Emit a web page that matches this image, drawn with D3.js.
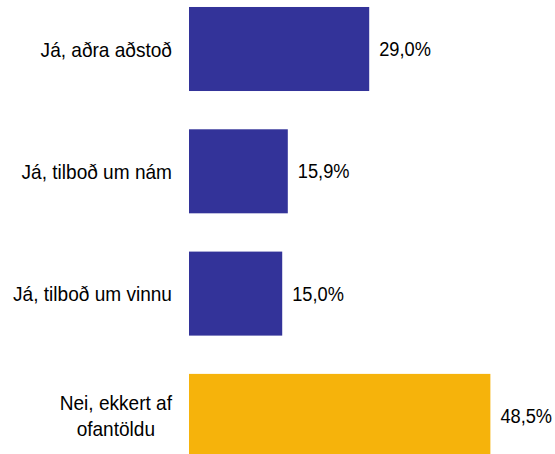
<!DOCTYPE html>
<html>
<head>
<meta charset="utf-8">
<script src="https://cdn.jsdelivr.net/npm/d3@7"></script>
<style>
  html, body { margin: 0; padding: 0; background: #ffffff; }
  svg { display: block; }
  text { font-family: "Liberation Sans", Arial, Helvetica, sans-serif; font-size: 20.5px; fill: #000; }
</style>
</head>
<body>
<svg id="chart" width="555" height="454"></svg>
<script>
const categories = ["Já, aðra aðstoð", "Já, tilboð um nám", "Já, tilboð um vinnu", "Nei, ekkert af ofantöldu"];
const labelLines = [["Já, aðra aðstoð"], ["Já, tilboð um nám"], ["Já, tilboð um vinnu"], ["Nei, ekkert af", "ofantöldu"]];
const values = [29.0, 15.9, 15.0, 48.5];
const valueLabels = ["29,0%", "15,9%", "15,0%", "48,5%"];
const barColors = ["#333399", "#333399", "#333399", "#F6B30B"];

const sxLab = 0.93, sxVal = 0.89; // condensed look of the original typeface
const svg = d3.select("#chart");
const x = d3.scaleLinear().domain([0, 50]).range([189, 499.7]);
const step = 122.3;
const y = d3.scaleBand()
  .domain(categories)
  .range([49 - step / 2, 49 - step / 2 + step * categories.length])
  .paddingInner(0.313)
  .paddingOuter(0.1565);

const data = categories.map((c, i) => ({ c, v: values[i], lab: valueLabels[i], lines: labelLines[i], col: barColors[i] }));

svg.selectAll("rect.bar").data(data).join("rect")
  .attr("class", "bar")
  .attr("x", x(0))
  .attr("y", d => y(d.c))
  .attr("width", d => x(d.v) - x(0))
  .attr("height", y.bandwidth())
  .attr("fill", d => d.col);

svg.selectAll("g.val").data(data).join("g")
  .attr("class", "val")
  .attr("transform", d => `translate(${x(d.v) + 10},${y(d.c) + y.bandwidth() / 2}) scale(${sxVal},1)`)
  .append("text")
  .attr("dy", "0.35em")
  .text(d => d.lab);

const lineH = 26;
const catG = svg.selectAll("g.cat").data(data).join("g").attr("class", "cat");
catG.each(function(d) {
  const g = d3.select(this);
  const cy = y(d.c) + y.bandwidth() / 2;
  const n = d.lines.length;
  const right = x(0) - 17;
  const lg = g.selectAll("g").data(d.lines).join("g");
  const texts = lg.append("text").attr("dy", "0.37em").attr("text-anchor", "middle").text(l => l);
  const widths = [];
  texts.each(function() { widths.push(this.getComputedTextLength() * sxLab); });
  const maxW = d3.max(widths);
  lg.attr("transform", (l, i) => `translate(${right - maxW / 2},${cy + (i - (n - 1) / 2) * lineH}) scale(${sxLab},1)`);
});
</script>
</body>
</html>
